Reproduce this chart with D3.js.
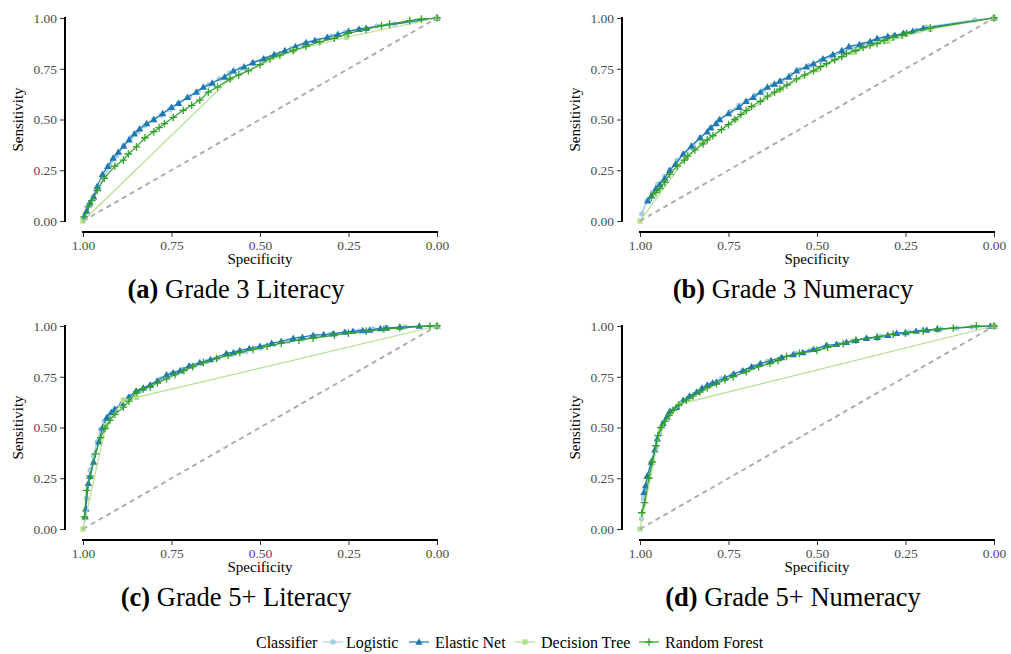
<!DOCTYPE html>
<html>
<head>
<meta charset="utf-8">
<script src="https://cdn.jsdelivr.net/npm/d3@7"></script>
<style>
  html, body { margin: 0; padding: 0; background: #fff; }
  svg { display: block; }
  svg text { font-family: "Liberation Serif", "Times New Roman", Times, serif !important; }
</style>
</head>
<body>
<svg id="chart" width="1011" height="654"></svg>
<script>
// ---------- data ----------
const classifiers = ["Logistic", "Elastic Net", "Decision Tree", "Random Forest"];
const classifierColors = ["#a6cee3", "#1f78b4", "#b2df8a", "#33a02c"];
const specificityTicks = [1.00, 0.75, 0.50, 0.25, 0.00];
const sensitivityTicks = [0.00, 0.25, 0.50, 0.75, 1.00];
const panelLetters = ["a", "b", "c", "d"];
const panelTitles = ["Grade 3 Literacy", "Grade 3 Numeracy", "Grade 5+ Literacy", "Grade 5+ Numeracy"];

// [specificity, sensitivity]
const g3LitLogistic = [[0.995,0.03],[0.985,0.08],[0.97,0.12],[0.955,0.16],[0.94,0.22],[0.925,0.27],[0.905,0.32],[0.885,0.37],[0.865,0.41],[0.845,0.44],[0.825,0.47],[0.80,0.50],[0.78,0.52],[0.755,0.55],[0.73,0.58],[0.70,0.61],[0.675,0.64],[0.645,0.67],[0.615,0.70],[0.585,0.73],[0.555,0.75],[0.52,0.78],[0.485,0.80],[0.45,0.82],[0.41,0.85],[0.375,0.87],[0.34,0.89],[0.30,0.91],[0.26,0.93],[0.22,0.945],[0.17,0.96],[0.12,0.97],[0.06,0.985],[0.0,1.0]];
const g3LitElastic = [[0.997,0.02],[0.99,0.05],[0.98,0.09],[0.97,0.12],[0.96,0.17],[0.945,0.23],[0.93,0.27],[0.915,0.31],[0.90,0.34],[0.885,0.37],[0.87,0.40],[0.855,0.43],[0.84,0.455],[0.82,0.48],[0.80,0.50],[0.775,0.53],[0.75,0.56],[0.73,0.58],[0.705,0.61],[0.68,0.635],[0.66,0.66],[0.635,0.68],[0.60,0.71],[0.575,0.74],[0.545,0.76],[0.52,0.78],[0.49,0.80],[0.46,0.82],[0.43,0.84],[0.40,0.86],[0.37,0.88],[0.345,0.89],[0.31,0.905],[0.28,0.92],[0.25,0.935],[0.22,0.945],[0.20,0.95],[0.0,1.0]];
const g3LitTree = [[1,0],[0.585,0.70],[0.405,0.84],[0.255,0.905],[0,1]];
const g3LitForest = [[0.997,0.02],[0.985,0.07],[0.975,0.10],[0.96,0.15],[0.94,0.21],[0.91,0.27],[0.886,0.30],[0.872,0.33],[0.849,0.365],[0.825,0.41],[0.80,0.44],[0.785,0.46],[0.77,0.48],[0.745,0.51],[0.717,0.545],[0.693,0.57],[0.67,0.595],[0.646,0.635],[0.62,0.66],[0.585,0.70],[0.56,0.72],[0.533,0.74],[0.50,0.77],[0.472,0.80],[0.444,0.817],[0.406,0.84],[0.37,0.86],[0.331,0.883],[0.29,0.90],[0.251,0.924],[0.20,0.945],[0.157,0.963],[0.134,0.97],[0.077,0.987],[0.044,0.995],[0,1]];

const g3NumLogistic = [[0.995,0.035],[0.98,0.10],[0.965,0.14],[0.95,0.18],[0.93,0.22],[0.915,0.25],[0.895,0.30],[0.875,0.33],[0.85,0.37],[0.83,0.41],[0.80,0.46],[0.775,0.50],[0.745,0.54],[0.72,0.57],[0.70,0.59],[0.675,0.62],[0.65,0.645],[0.625,0.67],[0.60,0.69],[0.575,0.72],[0.55,0.745],[0.52,0.765],[0.49,0.79],[0.46,0.81],[0.43,0.83],[0.40,0.85],[0.37,0.87],[0.34,0.885],[0.31,0.90],[0.28,0.91],[0.25,0.925],[0.22,0.94],[0.19,0.955],[0.054,0.99],[0,1]];
const g3NumElastic = [[0.978,0.10],[0.968,0.125],[0.955,0.16],[0.944,0.18],[0.93,0.21],[0.916,0.25],[0.90,0.28],[0.878,0.33],[0.855,0.37],[0.83,0.41],[0.81,0.44],[0.80,0.46],[0.785,0.48],[0.775,0.50],[0.75,0.53],[0.72,0.56],[0.70,0.59],[0.68,0.61],[0.66,0.635],[0.64,0.66],[0.62,0.675],[0.605,0.69],[0.58,0.71],[0.558,0.74],[0.53,0.76],[0.51,0.775],[0.483,0.80],[0.455,0.82],[0.43,0.84],[0.41,0.86],[0.38,0.87],[0.35,0.885],[0.33,0.90],[0.30,0.91],[0.28,0.915],[0.256,0.925],[0.23,0.935],[0.20,0.95],[0,1]];
const g3NumTree = [[1,0],[0.87,0.31],[0.825,0.385],[0.73,0.50],[0.60,0.65],[0.50,0.745],[0.40,0.83],[0.30,0.885],[0.18,0.945],[0,1]];
const g3NumForest = [[0.968,0.115],[0.955,0.14],[0.944,0.16],[0.93,0.19],[0.916,0.23],[0.895,0.27],[0.875,0.30],[0.865,0.32],[0.845,0.35],[0.822,0.38],[0.81,0.40],[0.794,0.42],[0.77,0.45],[0.75,0.475],[0.732,0.50],[0.715,0.525],[0.70,0.545],[0.685,0.565],[0.66,0.59],[0.64,0.615],[0.62,0.635],[0.605,0.65],[0.585,0.67],[0.558,0.70],[0.535,0.72],[0.51,0.74],[0.49,0.76],[0.473,0.775],[0.45,0.795],[0.43,0.81],[0.417,0.825],[0.39,0.84],[0.37,0.855],[0.35,0.866],[0.33,0.875],[0.31,0.89],[0.285,0.905],[0.26,0.915],[0.247,0.925],[0.18,0.95],[0,1]];

const g5LitLogistic = [[0.99,0.15],[0.98,0.29],[0.97,0.36],[0.96,0.43],[0.95,0.49],[0.94,0.53],[0.925,0.56],[0.91,0.59],[0.89,0.62],[0.87,0.65],[0.84,0.68],[0.81,0.71],[0.78,0.74],[0.75,0.765],[0.72,0.785],[0.69,0.80],[0.65,0.825],[0.62,0.84],[0.58,0.86],[0.54,0.875],[0.50,0.89],[0.46,0.91],[0.42,0.925],[0.38,0.935],[0.34,0.95],[0.30,0.96],[0.26,0.97],[0.22,0.975],[0.18,0.985],[0.14,0.99],[0.09,0.995],[0.0,1.0]];
const g5LitElastic = [[0.994,0.06],[0.992,0.10],[0.985,0.225],[0.98,0.26],[0.97,0.33],[0.955,0.43],[0.945,0.50],[0.933,0.55],[0.92,0.575],[0.91,0.59],[0.89,0.62],[0.87,0.65],[0.85,0.68],[0.83,0.695],[0.81,0.71],[0.79,0.73],[0.764,0.76],[0.745,0.77],[0.726,0.78],[0.70,0.805],[0.67,0.82],[0.64,0.835],[0.595,0.865],[0.575,0.87],[0.557,0.88],[0.53,0.89],[0.50,0.90],[0.467,0.915],[0.44,0.925],[0.406,0.94],[0.38,0.945],[0.35,0.955],[0.32,0.958],[0.293,0.962],[0.26,0.97],[0.237,0.975],[0.21,0.978],[0.19,0.98],[0.16,0.988],[0.143,0.99],[0.105,0.995],[0.05,1.0],[0,1]];
const g5LitTree = [[1,0],[0.935,0.51],[0.886,0.635],[0.849,0.648],[0,1]];
const g5LitForest = [[0.996,0.06],[0.99,0.19],[0.98,0.26],[0.965,0.37],[0.95,0.45],[0.938,0.495],[0.924,0.535],[0.91,0.565],[0.886,0.60],[0.87,0.63],[0.849,0.675],[0.83,0.69],[0.81,0.70],[0.79,0.72],[0.764,0.74],[0.74,0.76],[0.715,0.78],[0.69,0.80],[0.66,0.82],[0.623,0.84],[0.59,0.855],[0.557,0.87],[0.52,0.885],[0.48,0.90],[0.44,0.915],[0.39,0.93],[0.35,0.94],[0.29,0.955],[0.25,0.965],[0.20,0.975],[0.15,0.985],[0.105,0.99],[0.02,1.0],[0,1]];

const g5NumLogistic = [[0.996,0.05],[0.99,0.15],[0.985,0.20],[0.975,0.27],[0.965,0.34],[0.955,0.40],[0.945,0.47],[0.935,0.52],[0.92,0.56],[0.905,0.59],[0.885,0.62],[0.86,0.65],[0.83,0.68],[0.80,0.71],[0.77,0.74],[0.74,0.76],[0.71,0.78],[0.68,0.80],[0.64,0.825],[0.60,0.845],[0.56,0.865],[0.52,0.88],[0.48,0.895],[0.44,0.91],[0.40,0.925],[0.36,0.94],[0.32,0.95],[0.28,0.96],[0.24,0.97],[0.20,0.98],[0.15,0.985],[0.105,0.99],[0.063,0.995],[0,1]];
const g5NumElastic = [[0.989,0.18],[0.984,0.215],[0.98,0.26],[0.968,0.33],[0.958,0.39],[0.951,0.445],[0.935,0.52],[0.925,0.55],[0.916,0.58],[0.897,0.60],[0.878,0.635],[0.86,0.655],[0.84,0.675],[0.825,0.695],[0.81,0.71],[0.795,0.72],[0.784,0.725],[0.76,0.745],[0.735,0.765],[0.709,0.78],[0.685,0.80],[0.66,0.815],[0.63,0.83],[0.60,0.845],[0.567,0.86],[0.54,0.87],[0.51,0.885],[0.473,0.905],[0.445,0.91],[0.417,0.92],[0.39,0.93],[0.36,0.94],[0.33,0.945],[0.30,0.955],[0.275,0.965],[0.25,0.968],[0.22,0.975],[0.19,0.98],[0.16,0.985],[0.01,1.0],[0,1]];
const g5NumTree = [[1,0],[0.942,0.495],[0.888,0.615],[0,1]];
const g5NumForest = [[0.995,0.08],[0.987,0.13],[0.975,0.25],[0.965,0.33],[0.955,0.41],[0.949,0.46],[0.94,0.50],[0.93,0.53],[0.918,0.56],[0.907,0.585],[0.89,0.61],[0.869,0.635],[0.85,0.655],[0.831,0.675],[0.81,0.695],[0.784,0.715],[0.76,0.735],[0.737,0.75],[0.70,0.775],[0.665,0.80],[0.633,0.815],[0.61,0.83],[0.586,0.85],[0.55,0.865],[0.50,0.88],[0.47,0.895],[0.426,0.913],[0.39,0.93],[0.33,0.945],[0.285,0.96],[0.25,0.965],[0.20,0.975],[0.16,0.985],[0.115,0.99],[0.05,1.0],[0,1]];

const panelSeries = [
  [g3LitLogistic, g3LitElastic, g3LitTree, g3LitForest],
  [g3NumLogistic, g3NumElastic, g3NumTree, g3NumForest],
  [g5LitLogistic, g5LitElastic, g5LitTree, g5LitForest],
  [g5NumLogistic, g5NumElastic, g5NumTree, g5NumForest]
];

// ---------- layout ----------
const SERIF = '"Liberation Serif", "Times New Roman", Times, serif';
const svg = d3.select("#chart");
const panelX = [83, 640, 83, 640];     // pixel x of specificity = 1
const panelY = [18, 18, 326, 326];     // pixel y of sensitivity = 1
const panelW = 354, panelH = 203;
const fontTick = 13.5, fontTitle = 15, fontCaption = 26.5, fontLegend = 16;

function marker(g, shapeIdx, color, x, y) {
  if (shapeIdx === 0) {
    g.append("circle").attr("cx", x).attr("cy", y).attr("r", 2.7).attr("fill", color);
  } else if (shapeIdx === 1) {
    const s = 3.7;
    g.append("path").attr("d", `M${x},${y - s}L${x + s},${y + s * 0.75}L${x - s},${y + s * 0.75}Z`).attr("fill", color);
  } else if (shapeIdx === 2) {
    g.append("rect").attr("x", x - 2.6).attr("y", y - 2.6).attr("width", 5.2).attr("height", 5.2).attr("fill", color);
  } else {
    const s = 3.8;
    g.append("path").attr("d", `M${x - s},${y}H${x + s}M${x},${y - s}V${y + s}`).attr("stroke", color).attr("stroke-width", 1.3).attr("fill", "none");
  }
}

panelSeries.forEach((series, p) => {
  const x = d3.scaleLinear().domain([1, 0]).range([panelX[p], panelX[p] + panelW]);
  const y = d3.scaleLinear().domain([0, 1]).range([panelY[p] + panelH, panelY[p]]);
  const g = svg.append("g");

  // y axis
  const yAxisX = panelX[p] - 18;
  const yAxis = d3.axisLeft(y).tickValues(sensitivityTicks).tickFormat(d3.format(".2f")).tickSize(5).tickPadding(3);
  const ya = g.append("g").attr("transform", `translate(${yAxisX},0)`).call(yAxis);
  // x axis
  const xAxisY = panelY[p] + panelH + 11;
  const xAxis = d3.axisBottom(x).tickValues(specificityTicks).tickFormat(d3.format(".2f")).tickSize(5).tickPadding(3);
  const xa = g.append("g").attr("transform", `translate(0,${xAxisY})`).call(xAxis);
  [ya, xa].forEach(a => {
    a.attr("font-family", SERIF).attr("font-size", fontTick);
    a.select(".domain").remove();
    a.selectAll(".tick line").attr("stroke", "#333").attr("stroke-width", 1);
    a.selectAll(".tick text").attr("fill", "#4d4d4d").attr("font-family", SERIF).attr("font-size", fontTick);
  });
  g.append("line").attr("x1", yAxisX).attr("x2", yAxisX).attr("y1", y(1) - 1).attr("y2", y(0) + 1)
    .attr("stroke", "#000").attr("stroke-width", 2);
  g.append("line").attr("x1", x(1) - 1).attr("x2", x(0) + 1).attr("y1", xAxisY).attr("y2", xAxisY)
    .attr("stroke", "#000").attr("stroke-width", 2);

  // titles
  g.append("text").attr("x", (x(1) + x(0)) / 2).attr("y", xAxisY + 32).attr("text-anchor", "middle")
    .attr("font-family", SERIF).attr("font-size", fontTitle).attr("fill", "#000").text("Specificity");
  g.append("text").attr("transform", `translate(${panelX[p] - 60},${(y(0) + y(1)) / 2}) rotate(-90)`)
    .attr("text-anchor", "middle").attr("font-family", SERIF).attr("font-size", fontTitle)
    .attr("fill", "#000").text("Sensitivity");

  // caption
  const cap = g.append("text").attr("x", panelX[p] + 153).attr("y", panelY[p] + panelH + 77)
    .attr("text-anchor", "middle").attr("font-family", SERIF).attr("font-size", fontCaption).attr("fill", "#000");
  cap.append("tspan").attr("font-weight", "bold").text(`(${panelLetters[p]})`);
  cap.append("tspan").text(` ${panelTitles[p]}`);

  // curves
  const line = d3.line().x(d => x(d[0])).y(d => y(d[1]));
  series.forEach((data, i) => {
    g.append("path").datum(data).attr("d", line).attr("fill", "none")
      .attr("stroke", classifierColors[i]).attr("stroke-width", i === 0 ? 1.6 : 1.2);
    const mg = g.append("g");
    data.forEach(d => marker(mg, i, classifierColors[i], x(d[0]), y(d[1])));
  });

  // chance diagonal
  g.append("line").attr("x1", x(1)).attr("y1", y(0)).attr("x2", x(0)).attr("y2", y(1))
    .attr("stroke", "#ababab").attr("stroke-width", 1.9).attr("stroke-dasharray", "5,4");
});

// ---------- legend ----------
const legendY = 642;
const legend = svg.append("g");
legend.append("text").attr("x", 256).attr("y", legendY).attr("dy", "0.35em")
  .attr("font-family", SERIF).attr("font-size", fontLegend).attr("fill", "#000").text("Classifier");
const symX = [323, 409, 515, 639];
const txtX = [346, 435, 541, 665];
classifiers.forEach((c, i) => {
  legend.append("line").attr("x1", symX[i]).attr("x2", symX[i] + 20).attr("y1", legendY).attr("y2", legendY)
    .attr("stroke", classifierColors[i]).attr("stroke-width", 1.2);
  marker(legend, i, classifierColors[i], symX[i] + 10, legendY);
  legend.append("text").attr("x", txtX[i]).attr("y", legendY).attr("dy", "0.35em")
    .attr("font-family", SERIF).attr("font-size", fontLegend).attr("fill", "#000").text(c);
});
</script>
</body>
</html>
